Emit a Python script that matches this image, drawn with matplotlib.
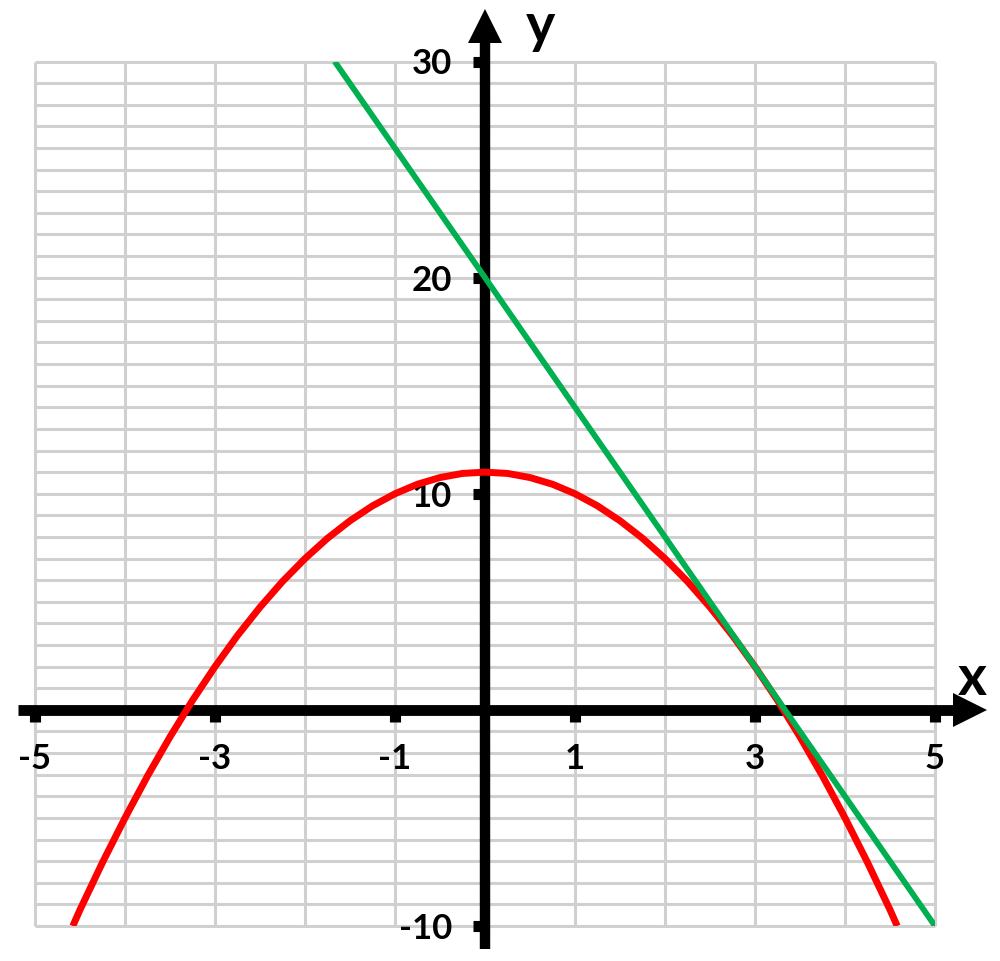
import matplotlib
matplotlib.use("Agg")
import matplotlib.pyplot as plt

# ---- data ----
parab_x = [-4.58, -4.5, -4.25, -4.0, -3.75, -3.5, -3.25, -3.0, -2.75, -2.5, -2.25, -2.0,
           -1.75, -1.5, -1.25, -1.0, -0.75, -0.5, -0.25, 0.0, 0.25, 0.5, 0.75, 1.0,
           1.25, 1.5, 1.75, 2.0, 2.25, 2.5, 2.75, 3.0, 3.25, 3.5, 3.75, 4.0, 4.25,
           4.5, 4.58]
parab_y = [-10.0, -9.25, -7.06, -5.0, -3.06, -1.25, 0.44, 2.0, 3.44, 4.75, 5.94, 7.0,
           7.94, 8.75, 9.44, 10.0, 10.44, 10.75, 10.94, 11.0, 10.94, 10.75, 10.44, 10.0,
           9.44, 8.75, 7.94, 7.0, 5.94, 4.75, 3.44, 2.0, 0.44, -1.25, -3.06, -5.0, -7.06,
           -9.25, -10.0]
line_x = [-1.67, 0.0, 3.0, 5.0]
line_y = [30.0, 20.0, 2.0, -10.0]

x_ticks = [-5, -3, -1, 1, 3, 5]
x_tick_labels = ["-5", "-3", "-1", "1", "3", "5"]
y_ticks = [-10, 10, 20, 30]
y_tick_labels = ["-10", "10", "20", "30"]
x_grid = list(range(-5, 6))
y_grid = list(range(-10, 31))

plt.rcParams['font.family'] = ['Lato', 'DejaVu Sans']

fig = plt.figure(figsize=(10, 9.61), dpi=100)
ax = fig.add_axes([0.035, 1 - 926 / 961, 0.900, 864.5 / 961])
ax.set_xlim(-5, 5)
ax.set_ylim(-10, 30)

# grid lines
ax.vlines(x_grid, -10, 30, color='#d0d0d0', lw=2.2, zorder=0, clip_on=False)
ax.hlines(y_grid, -5, 5, color='#d0d0d0', lw=2.2, zorder=0, clip_on=False)

# spines at zero (invisible, used for tick placement)
for s in ['top', 'right']:
    ax.spines[s].set_visible(False)
ax.spines['left'].set_position(('data', 0))
ax.spines['bottom'].set_position(('data', 0))
ax.spines['left'].set_color('none')
ax.spines['bottom'].set_color('none')

ax.set_xticks(x_ticks)
ax.set_xticklabels(x_tick_labels)
ax.set_yticks(y_ticks)
ax.set_yticklabels(y_tick_labels)
ax.tick_params(which='major', direction='out', length=8.6, width=8, color='black',
               labelsize=25, pad=15)
for lab in ax.get_xticklabels() + ax.get_yticklabels():
    lab.set_fontweight('bold')

# axis lines with arrows
ax.plot([-5.19, 5.3], [0, 0], color='black', lw=7.8, clip_on=False, zorder=5,
        solid_capstyle='butt')
ax.plot([5.394], [0], marker='>', ms=25, color='black', mew=0, clip_on=False, zorder=5)
ax.plot([0, 0], [-11.06, 31.5], color='black', lw=7.5, clip_on=False, zorder=5,
        solid_capstyle='butt')
ax.plot([0], [31.62], marker='^', ms=25, color='black', mew=0, clip_on=False, zorder=5)

# curves (drawn over the axes)
ax.plot(parab_x, parab_y, color='#ff0000', lw=5.0, zorder=6, solid_capstyle='butt')
ax.plot(line_x, line_y, color='#00b050', lw=4.2, zorder=7, solid_capstyle='butt')

ax.text(5.42, 1.45, 'x', fontsize=40, fontweight='bold', ha='center', va='center')
ax.text(0.62, 31.6, 'y', fontsize=40, fontweight='bold', ha='center', va='center')

fig.savefig('out.png', dpi=100)
